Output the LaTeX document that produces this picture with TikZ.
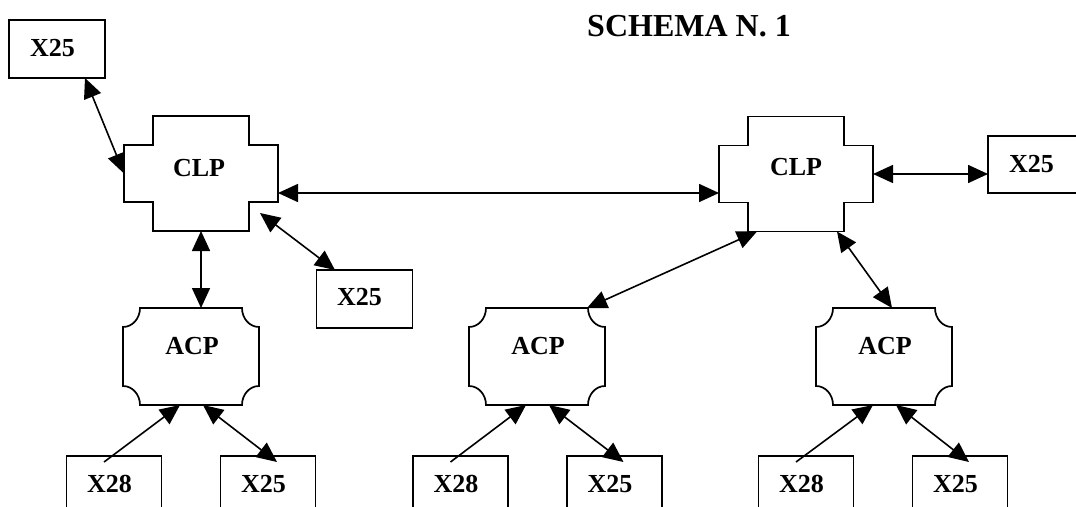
\documentclass[tikz,border=0pt]{standalone}
\usepackage{fontspec}
\setmainfont{Liberation Serif}
\usetikzlibrary{arrows.meta,calc}

\tikzset{
  outline/.style={line width=1.7pt, line join=miter},
  frame/.style={draw, line width=1.7pt, rectangle, outer sep=0pt, inner sep=0pt,
    minimum width=96pt, minimum height=58pt},
  lowframe/.style={frame, minimum width=95pt, minimum height=80pt},
  area/.style={rectangle, outer sep=0pt, inner sep=0pt},
  clparea/.style={area, minimum width=154pt, minimum height=115pt},
  acparea/.style={area, minimum width=136pt, minimum height=97pt},
  tag/.style={inner sep=0pt, outer sep=0pt, font=\fontsize{26}{26}\selectfont\bfseries,
    text height=17pt, text depth=0pt},
  heading/.style={inner sep=0pt, outer sep=0pt, font=\fontsize{32}{32}\selectfont\bfseries,
    text height=21pt, text depth=0pt},
  link/.style={line width=1.6pt,
    {Triangle[length=20pt,width=18pt]}-{Triangle[length=20pt,width=18pt]}},
  feed/.style={line width=1.6pt, -{Triangle[length=20pt,width=18pt]}},
}

% cross-shaped outline with square notches at the four corners
\newcommand\clpoutline[1]{%
  \draw[outline] ([xshift=29pt]#1.north west) -- ([xshift=-29pt]#1.north east)
    -- ([xshift=-29pt,yshift=-29pt]#1.north east) -- ([yshift=-29pt]#1.north east)
    -- ([yshift=29pt]#1.south east) -- ([xshift=-29pt,yshift=29pt]#1.south east)
    -- ([xshift=-29pt]#1.south east) -- ([xshift=29pt]#1.south west)
    -- ([xshift=29pt,yshift=29pt]#1.south west) -- ([yshift=29pt]#1.south west)
    -- ([yshift=-29pt]#1.north west) -- ([xshift=29pt,yshift=-29pt]#1.north west)
    -- cycle;}

% rectangle with concave rounded corners
\newcommand\acpoutline[1]{%
  \draw[outline] ([yshift=-19pt]#1.north west)
    .. controls ([xshift=9.4pt,yshift=-19pt]#1.north west) and ([xshift=17pt,yshift=-10.5pt]#1.north west) .. ([xshift=17pt]#1.north west)
    -- ([xshift=-17pt]#1.north east)
    .. controls ([xshift=-17pt,yshift=-10.5pt]#1.north east) and ([xshift=-9.4pt,yshift=-19pt]#1.north east) .. ([yshift=-19pt]#1.north east)
    -- ([yshift=19pt]#1.south east)
    .. controls ([xshift=-9.4pt,yshift=19pt]#1.south east) and ([xshift=-17pt,yshift=10.5pt]#1.south east) .. ([xshift=-17pt]#1.south east)
    -- ([xshift=17pt]#1.south west)
    .. controls ([xshift=17pt,yshift=10.5pt]#1.south west) and ([xshift=9.4pt,yshift=19pt]#1.south west) .. ([yshift=19pt]#1.south west)
    -- cycle;}

\begin{document}
\begin{tikzpicture}[x=1pt,y=-1pt]
\useasboundingbox (0,0) rectangle (1076,506);
\clip (0,0) rectangle (1076,506);

% title
\node[heading] (title) at (689,26) {SCHEMA N. 1};

% upper level
\node[frame] (xtl) at (57,49) {};
\node[clparea] (clpL) at (201,173.5) {};
\node[clparea] (clpR) at (796,174) {};
\node[frame] (xmid) at (364.5,299) {};
\node[frame, minimum height=57pt] (xright) at (1036,164.5) {};
\clpoutline{clpL}
\clpoutline{clpR}

% access level
\node[acparea] (acpL) at (191,356.5) {};
\node[acparea] (acpM) at (537,356.5) {};
\node[acparea] (acpR) at (884,356.5) {};
\acpoutline{acpL}
\acpoutline{acpM}
\acpoutline{acpR}

% terminal boxes along the bottom
\node[lowframe] (aL) at (114,496) {};
\node[lowframe] (bL) at (268,496) {};
\node[lowframe] (aM) at (460.5,496) {};
\node[lowframe] (bM) at (614.5,496) {};
\node[lowframe] (aR) at (806,496) {};
\node[lowframe] (bR) at (960,496) {};

% labels
\node[tag] (txtl) at ($(xtl)+(-4.5,-1)$) {X25};
\node[tag] (tclpL) at ($(clpL)+(-2,-5.5)$) {CLP};
\node[tag] (tclpR) at ($(clpR)+(0,-7)$) {CLP};
\node[tag] (txmid) at ($(xmid)+(-5,-2)$) {X25};
\node[tag] (txright) at ($(xright)+(-4.5,-1)$) {X25};
\node[tag] (tacpL) at ($(acpL)+(1,-10.5)$) {ACP};
\node[tag] (tacpM) at ($(acpM)+(1,-10.5)$) {ACP};
\node[tag] (tacpR) at ($(acpR)+(1,-10.5)$) {ACP};
\node[tag] (taL) at ($(aL.north)+(-4.5,28)$) {X28};
\node[tag] (tbL) at ($(bL.north)+(-4.5,28)$) {X25};
\node[tag] (taM) at ($(aM.north)+(-4.5,28)$) {X28};
\node[tag] (tbM) at ($(bM.north)+(-4.5,28)$) {X25};
\node[tag] (taR) at ($(aR.north)+(-4.5,28)$) {X28};
\node[tag] (tbR) at ($(bR.north)+(-4.5,28)$) {X25};

% connections
\draw[link] ([xshift=28pt]xtl.south) -- (clpL.west);
\draw[link] ([yshift=-19.5pt]clpL.east) -- ([yshift=-19pt]clpR.west);
\draw[link] (clpL.south) -- ([xshift=10pt]acpL.north);
\draw[link] ([xshift=-18pt,yshift=18pt]clpL.south east) -- ([xshift=-29.5pt]xmid.north);
\draw[link] (clpR.east) -- ([yshift=-9.5pt]xright.west);
\draw[link] ([xshift=-39pt]clpR.south) -- ([xshift=-18pt]acpM.north east);
\draw[link] ([xshift=41pt]clpR.south) -- ([xshift=8pt]acpR.north);

\draw[feed] ([xshift=-10pt,yshift=-6pt]aL.north) -- ([xshift=-11pt]acpL.south);
\draw[link] ([xshift=12pt]acpL.south) -- ([xshift=9pt,yshift=-6pt]bL.north);
\draw[feed] ([xshift=-10pt,yshift=-6pt]aM.north) -- ([xshift=-11pt]acpM.south);
\draw[link] ([xshift=12pt]acpM.south) -- ([xshift=9pt,yshift=-6pt]bM.north);
\draw[feed] ([xshift=-10pt,yshift=-6pt]aR.north) -- ([xshift=-11pt]acpR.south);
\draw[link] ([xshift=12pt]acpR.south) -- ([xshift=9pt,yshift=-6pt]bR.north);
\end{tikzpicture}
\end{document}
